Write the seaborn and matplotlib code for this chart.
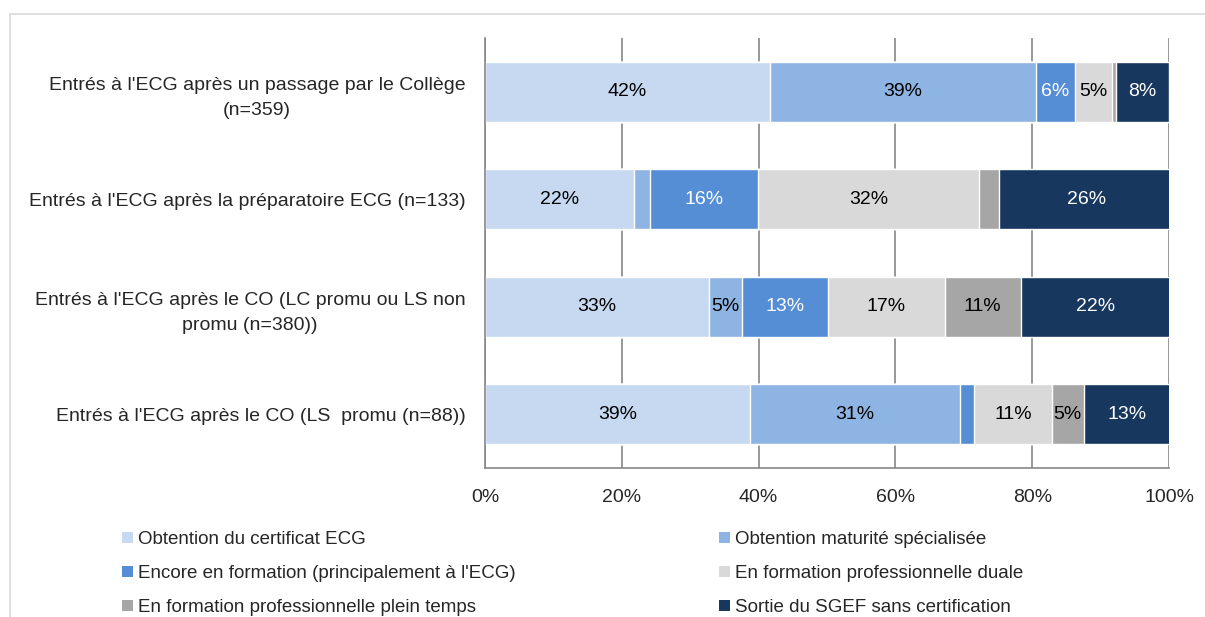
import numpy as np
import pandas as pd
import seaborn as sns
import matplotlib.pyplot as plt
from matplotlib.patches import Patch, Rectangle

# categories (top to bottom)
categories = [
    "Entrés à l'ECG après un passage par le Collège\n(n=359)",
    "Entrés à l'ECG après la préparatoire ECG (n=133)",
    "Entrés à l'ECG après le CO (LC promu ou LS non\npromu (n=380))",
    "Entrés à l'ECG après le CO (LS  promu (n=88))",
]
series_names = [
    "Obtention du certificat ECG",
    "Obtention maturité spécialisée",
    "Encore en formation (principalement à l'ECG)",
    "En formation professionnelle duale",
    "En formation professionnelle plein temps",
    "Sortie du SGEF sans certification",
]
colors = ["#C6D9F1", "#8EB4E3", "#558ED5", "#D9D9D9", "#A6A6A6", "#17375E"]
text_colors = ["black", "black", "white", "black", "black", "white"]

certificat = [41.6, 21.8, 32.8, 38.8]
maturite = [38.9, 2.3, 4.7, 30.6]
encore = [5.8, 15.8, 12.6, 2.1]
duale = [5.4, 32.3, 17.1, 11.4]
plein_temps = [0.5, 3.0, 11.1, 4.6]
sortie = [7.8, 25.6, 21.8, 12.6]

values = np.array([certificat, maturite, encore, duale, plein_temps, sortie])
cum = values.cumsum(axis=0)

sns.set_style("white")
plt.rcParams['font.family'] = ['Liberation Sans', 'DejaVu Sans']

fig = plt.figure(figsize=(12.05, 6.17), dpi=100)
ax = fig.add_axes([485 / 1205, 1 - 468 / 617, (1169 - 485) / 1205, (468 - 38) / 617])

# stacked bars: draw cumulative totals from the last series back to the first
for i in range(len(series_names) - 1, -1, -1):
    df = pd.DataFrame({"cat": categories, "val": cum[i]})
    sns.barplot(data=df, x="val", y="cat", orient="h", color=colors[i],
                width=0.56, saturation=1, ax=ax, zorder=2)

# value labels
for i in range(len(series_names)):
    for j in range(len(categories)):
        v = values[i, j]
        if v >= 4.5:
            mid = cum[i, j] - v / 2
            ax.text(mid, j, f"{round(v):.0f}%", ha="center", va="center",
                    fontsize=14, color=text_colors[i], zorder=3)

ax.set_xlim(0, 100)
ax.set_ylim(3.5, -0.5)
ax.set_xticks(np.arange(0, 101, 20))
ax.set_xticklabels([f"{t}%" for t in range(0, 101, 20)], fontsize=14)
ax.set_yticks(range(len(categories)))
ax.set_yticklabels(categories, fontsize=14, multialignment="center", linespacing=1.6)
ax.set_yticks(np.arange(-0.5, 4, 1), minor=True)
ax.tick_params(axis="y", which="major", length=0, pad=14)
ax.tick_params(axis="y", which="minor", length=5, color="#868686", width=1.2, direction="out")
ax.tick_params(axis="x", length=5, color="#868686", width=1.2, direction="out", pad=10)
ax.set_xlabel("")
ax.set_ylabel("")
ax.xaxis.grid(True, color="#868686", linewidth=1.2, zorder=0)
ax.set_axisbelow(True)
for s in ["top", "right"]:
    ax.spines[s].set_visible(False)
for s in ["left", "bottom"]:
    ax.spines[s].set_color("#868686")
    ax.spines[s].set_linewidth(1.2)

# legend, filled row by row like the original
order = [0, 2, 4, 1, 3, 5]
handles = [Patch(facecolor=colors[k], edgecolor="none") for k in order]
labels = [series_names[k] for k in order]
fig.legend(handles, labels, loc="upper left", bbox_to_anchor=(111 / 1205, 1 - 520 / 617),
           ncol=2, frameon=False, fontsize=13.5, handlelength=0.55, handleheight=0.55,
           handletextpad=0.3, columnspacing=10.85, labelspacing=0.9, borderaxespad=0.2)

# chart border
fig.patches.append(Rectangle((10 / 1205, -0.1), 1.2, 1 - 14 / 617 + 0.1, transform=fig.transFigure,
                             fill=False, edgecolor="#D9D9D9", linewidth=1.2))

fig.savefig("out.png", dpi=100)
